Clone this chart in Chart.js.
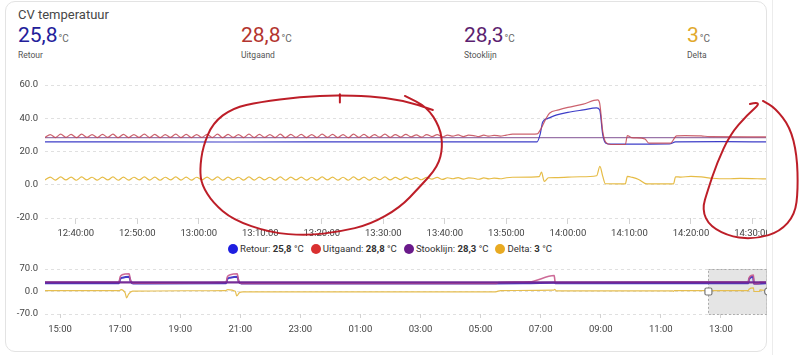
<!DOCTYPE html>
<html><head><meta charset="utf-8">
<script src="https://cdn.jsdelivr.net/npm/chart.js@4.4.1/dist/chart.umd.min.js"></script>
<style>
html,body{margin:0;padding:0;background:#fff;width:800px;height:355px;overflow:hidden;font-family:Roboto,sans-serif;}
#card{position:absolute;left:5px;top:1px;width:762px;height:351px;border:1px solid #e3e3e3;border-radius:10px;box-sizing:border-box;}
#side{position:absolute;left:772px;top:0;width:1px;height:355px;background:#ececec;}
.title{position:absolute;left:18px;top:7px;font-size:13px;line-height:15px;color:#474747;}
.stat{position:absolute;top:23px;white-space:nowrap;}
.stat .v{font-size:21px;line-height:24px;}
.stat .u{font-size:10px;color:#666;margin-left:1px;}
.stat .n{font-size:8.5px;line-height:10px;color:#555;margin-top:3px;}
#legend{position:absolute;left:0;top:243px;width:780px;display:flex;justify-content:center;font-size:9.6px;line-height:12px;color:#333;}
#legend .it{display:flex;align-items:center;margin:0 3.5px;}
#legend .dot{width:10px;height:10px;border-radius:50%;margin-right:2px;}
.wrap{position:absolute;left:0;width:767px;overflow:hidden;}
#pen{position:absolute;left:0;top:0;z-index:5;pointer-events:none;}
</style></head>
<body>
<div id="card"></div><div id="side"></div>
<div class="title">CV temperatuur</div>
<div id="stats"></div>
<div class="wrap" style="top:72px;height:168px;"><canvas id="main" width="790" height="168"></canvas></div>
<div id="legend"></div>
<div class="wrap" style="top:256px;height:80px;"><canvas id="over" width="790" height="80"></canvas></div>
<canvas id="pen" width="800" height="355"></canvas>
<script>
// ---------- data ----------
const seriesNames = ['Retour', 'Uitgaand', 'Stooklijn', 'Delta'];
const currentValues = ['25,8', '28,8', '28,3', '3'];
const unitLabel = '°C';

// main chart range & ticks
const mainStart = '12:35:00', mainEnd = '14:32:12';
const mainTickTimes = ['12:40:00','12:50:00','13:00:00','13:10:00','13:20:00','13:30:00','13:40:00','13:50:00','14:00:00','14:10:00','14:20:00','14:30:00'];
const mainYTicks = [-20, 0, 20, 40, 60];

// Retour (main)
const retourTimes = ['12:35:00','13:05:00','13:30:00','13:55:00','13:55:30','13:55:54','13:56:40','13:58:12','14:00:00','14:02:30','14:04:40','14:05:10','14:05:40','14:06:10','14:07:00','14:12:00','14:16:30','14:17:30','14:25:00','14:32:12'];
const retourValues = [25.8,25.7,25.8,25.8,30.5,37.8,39.8,42.0,43.5,45.0,46.2,45.0,30.0,25.0,24.4,24.4,24.5,25.8,25.9,25.8];

// Stooklijn (main)
const stooklijnTimes = ['12:35:00','14:32:12'];
const stooklijnValues = [28.3, 28.3];

// sensor samples during the oscillating period (every 51 s from 12:35:00)
const oscStart = '12:35:00', oscStepSeconds = 51;
const uitgaandOsc = [
 28.5,30.2,28.4,30.4,28.5,30.3,28.3,30.4,28.5,30.2,
 28.4,30.3,28.5,30.4,28.3,30.3,28.4,30.2,28.5,30.4,
 28.4,30.3,28.3,30.2,28.5,30.4,28.4,30.3,28.4,30.2,
 28.5,30.3,28.4,30.4,28.3,30.3,28.5,30.2,28.4,30.4,
 28.4,30.3,28.5,30.2,28.4,30.4,28.3,30.3,28.5,30.3,
 28.4,30.2,28.4,30.4,28.5,30.3,28.4,30.2,28.3,30.4,
 28.5,30.3,28.4,30.2,28.6,30.4,28.5,30.1,28.7,30.3,
 28.8,30.0,28.6,30.2,29.0,30.1,28.8,29.9,29.2,30.0,
 29.0,29.8];
const deltaOsc = [
 2.9,4.6,2.8,4.7,2.9,4.6,2.7,4.7,2.9,4.5,
 2.8,4.6,2.9,4.7,2.7,4.6,2.8,4.5,2.9,4.7,
 2.8,4.6,2.7,4.5,2.9,4.7,2.8,4.6,2.8,4.5,
 2.9,4.6,2.8,4.7,2.7,4.6,2.9,4.5,2.8,4.7,
 2.8,4.6,2.9,4.5,2.8,4.7,2.7,4.6,2.9,4.6,
 2.8,4.5,2.8,4.7,2.9,4.6,2.8,4.5,2.7,4.7,
 2.9,4.6,2.8,4.5,3.0,4.7,2.9,4.4,3.1,4.6,
 3.2,4.3,3.0,4.5,3.4,4.4,3.2,4.2,3.6,4.3,
 3.4,4.1];

// Uitgaand after the oscillation
const uitgaandTailTimes = ['13:44:40','13:45:30','13:46:20','13:47:10','13:48:00','13:49:00','13:50:00','13:51:00','13:53:00','13:55:00','13:55:40','13:56:20','13:57:00','13:58:30','14:00:00','14:02:30','14:04:50','14:05:10','14:05:40','14:06:10','14:07:00','14:09:20','14:09:40','14:10:20','14:12:30','14:13:10','14:16:40','14:17:40','14:19:00','14:21:40','14:23:00','14:32:12'];
const uitgaandTailValues = [29.6,29.0,29.8,29.2,29.7,29.3,29.9,30.4,30.4,30.6,34.0,39.0,43.0,45.0,46.5,48.5,51.0,49.0,32.0,25.5,24.2,24.2,29.6,28.4,27.6,25.0,25.0,29.4,29.6,29.4,28.9,28.8];

// Delta after the oscillation
const deltaTailTimes = ['13:44:40','13:45:30','13:46:20','13:47:10','13:48:00','13:49:00','13:50:00','13:51:00','13:54:00','13:55:20','13:55:42','13:56:10','13:56:50','13:58:00','14:02:00','14:04:40','14:05:12','14:05:40','14:06:05','14:09:20','14:09:40','14:10:30','14:11:30','14:12:50','14:17:10','14:17:30','14:18:20','14:20:00','14:21:40','14:23:30','14:26:00','14:28:00','14:32:12'];
const deltaTailValues = [3.9,3.3,4.1,3.5,4.0,3.6,4.2,4.5,4.6,4.9,7.6,2.0,4.2,4.3,4.8,5.4,11.0,5.0,0.6,0.5,5.0,4.4,3.2,0.5,0.5,4.8,4.6,5.0,4.7,3.9,3.6,3.8,3.5];

// overview (last 24 h); '+' = next day (today)
const overStart = '14:30', overEnd = '+14:30';
const overTickTimes = ['15:00','17:00','19:00','21:00','23:00','+01:00','+03:00','+05:00','+07:00','+09:00','+11:00','+13:00'];
const overYTicks = [-70, 0, 70];
const ovRetourTimes = ['14:30','16:58','17:00','17:05','17:18','17:21','17:26','20:32','20:34','20:40','20:54','20:57','21:02','+05:30','+06:40','+07:27','+07:30','+13:55','+13:56','+14:04','+14:06','+14:30'];
const ovRetourValues = [26,26,38,43,46,32,25,26,38,43,46,30,25,25,26,27,26,26,38,46,24,26];
const ovUitgaandTimes = ['14:30','16:58','17:00','17:04','17:18','17:21','17:26','20:32','20:34','20:40','20:54','20:57','21:02','+05:30','+05:36','+06:37','+07:27','+07:29','+13:55','+13:56','+14:05','+14:06','+14:17','+14:18','+14:30'];
const ovUitgaandValues = [29,29,45,52,55,33,26,29,45,52,55,31,25,25,28,30,50,28,30,42,51,24,25,29,29];
const ovStooklijnTimes = ['14:30','+14:30'];
const ovStooklijnValues = [28.3,28.3];
const ovDeltaTimes = ['14:30','16:59','17:02','17:10','17:13','17:17','17:25','20:31','20:35','20:50','20:53','20:58','21:05','+05:30','+05:40','+07:26','+07:28','+07:31','+11:24','+11:25','+11:27','+13:55','+13:56','+14:05','+14:06','+14:17','+14:18','+14:30'];
const ovDeltaValues = [3,3,6,-4,-20,-8,1,3,6,1,-14,-4,-1,-1,3,4,7,2,2,0,3,3,7,11,0,0,5,3];

// hand-drawn red pen marks, in chart units (time, °C)
const penStroke1 = [['13:38:03',45.0],['13:32:41',52.2],['13:22:56',54.0],['13:16:25',52.8],['13:09:55',49.8],['13:05:32',46.2],['13:02:17',37.2],['13:00:39',22.8],['13:00:10',9.0],['13:00:29',0],['13:02:17',-10.8],['13:05:32',-21.0],['13:11:33',-28.8],['13:17:34',-30.6],['13:22:56',-28.2],['13:27:48',-24.0],['13:32:41',-13.8],['13:35:56',-1.2],['13:38:52',10.8],['13:39:40',22.8],['13:39:11',34.8],['13:37:04',46.8],['13:33:30',53.4]];
const penTick1 = [['13:22:56',54.5],['13:22:56',49.5]];
const penStroke2 = [['14:29:35',48.6],['14:31:42',50.4],['14:29:07',42.0],['14:26:20',30.0],['14:24:14',13.2],['14:22:46',-3.0],['14:21:47',-15.0],['14:23:05',-25.2],['14:26:50',-31.8],['14:30:44',-32.4],['14:34:28',-28.2],['14:36:55',-18.0],['14:37:24',-3.0],['14:37:14',18.0],['14:36:06',34.8],['14:33:40',46.2],['14:31:42',50.4]];

// ---------- styles ----------
const statColors = ['#23209a', '#b3352f', '#5c1f70', '#e1a92c'];
const dotColors = ['#1e1ee0', '#d93030', '#6a1a8a', '#e8aa22'];
const mainLineColors = ['rgb(62,62,200)', 'rgba(195,70,85,0.85)', 'rgba(120,70,140,0.75)', 'rgb(230,188,70)'];
const overLineColors = ['rgb(70,60,200)', 'rgba(200,90,140,0.9)', 'rgba(112,35,145,0.95)', 'rgb(230,190,80)'];

// ---------- helpers ----------
function toMin(s) {
  let day = 0;
  if (s[0] === '+') { day = 1440; s = s.slice(1); }
  const p = s.split(':').map(Number);
  return day + p[0] * 60 + p[1] + (p[2] || 0) / 60;
}
const pad = n => String(n).padStart(2, '0');
function fmtHMS(v) { const t = Math.round(v * 60); return pad(Math.floor(t / 3600) % 24) + ':' + pad(Math.floor(t % 3600 / 60)) + ':' + pad(t % 60); }
function fmtHM(v) { const t = Math.round(v); return pad(Math.floor(t / 60) % 24) + ':' + pad(t % 60); }
const pts = (times, vals) => times.map((t, i) => ({ x: toMin(t), y: vals[i] }));
const oscPts = vals => vals.map((v, i) => ({ x: toMin(oscStart) + i * oscStepSeconds / 60, y: v }));

// ---------- header & legend ----------
const statLeft = [18, 241, 464, 687];
const statsEl = document.getElementById('stats');
seriesNames.forEach((n, i) => {
  const d = document.createElement('div');
  d.className = 'stat'; d.style.left = statLeft[i] + 'px';
  d.innerHTML = `<span class="v" style="color:${statColors[i]}">${currentValues[i]}</span><span class="u">${unitLabel}</span><div class="n">${n}</div>`;
  statsEl.appendChild(d);
});
const legEl = document.getElementById('legend');
seriesNames.forEach((n, i) => {
  const d = document.createElement('div');
  d.className = 'it';
  d.innerHTML = `<span class="dot" style="background:${dotColors[i]}"></span><span>${n}: <b>${currentValues[i]}</b> ${unitLabel}</span>`;
  legEl.appendChild(d);
});

// ---------- charts ----------
Chart.defaults.font.family = 'Roboto, sans-serif';
Chart.defaults.font.size = 9.5;
Chart.defaults.color = '#444';

const mainMin = toMin(mainStart), mainMax = toMin(mainEnd);

const penPlugin = {
  id: 'pen',
  afterDraw(chart) {
    const c = document.getElementById('pen');
    const ctx = c.getContext('2d');
    ctx.clearRect(0, 0, c.width, c.height);
    const off = chart.canvas.parentNode;
    const ox = off.offsetLeft, oy = off.offsetTop;
    const X = t => ox + chart.scales.x.getPixelForValue(toMin(t));
    const Y = v => oy + chart.scales.y.getPixelForValue(v);
    ctx.strokeStyle = 'rgba(185,18,28,0.95)';
    ctx.lineWidth = 2; ctx.lineJoin = 'round'; ctx.lineCap = 'round';
    function smooth(list) {
      const p = list.map(([t, v]) => [X(t), Y(v)]);
      ctx.beginPath(); ctx.moveTo(p[0][0], p[0][1]);
      for (let i = 1; i < p.length - 1; i++) {
        const mx = (p[i][0] + p[i + 1][0]) / 2, my = (p[i][1] + p[i + 1][1]) / 2;
        ctx.quadraticCurveTo(p[i][0], p[i][1], mx, my);
      }
      const l = p[p.length - 1]; ctx.lineTo(l[0], l[1]);
      ctx.stroke();
    }
    smooth(penStroke1);
    smooth(penStroke2);
    ctx.beginPath(); ctx.moveTo(X(penTick1[0][0]), Y(penTick1[0][1])); ctx.lineTo(X(penTick1[1][0]), Y(penTick1[1][1])); ctx.stroke();
  }
};

function ds(label, data, color, width, order) {
  return { label, data, borderColor: color, borderWidth: width, pointRadius: 0, fill: false, cubicInterpolationMode: 'monotone', order };
}

new Chart(document.getElementById('main'), {
  type: 'line',
  data: {
    datasets: [
      ds(seriesNames[0], pts(retourTimes, retourValues), mainLineColors[0], 1.2, 2),
      ds(seriesNames[1], oscPts(uitgaandOsc).concat(pts(uitgaandTailTimes, uitgaandTailValues)), mainLineColors[1], 1.2, 1),
      ds(seriesNames[2], pts(stooklijnTimes, stooklijnValues), mainLineColors[2], 1.3, 3),
      ds(seriesNames[3], oscPts(deltaOsc).concat(pts(deltaTailTimes, deltaTailValues)), mainLineColors[3], 1.2, 4)
    ]
  },
  options: {
    responsive: false, animation: false, events: [],
    layout: { padding: { top: 13, right: 24, bottom: 0, left: 0 } },
    plugins: { legend: { display: false }, tooltip: { enabled: false } },
    scales: {
      x: {
        type: 'linear', min: mainMin, max: mainMax,
        afterBuildTicks: s => { s.ticks = mainTickTimes.map(t => ({ value: toMin(t) })); },
        afterFit: s => { s.height = 22; },
        ticks: { padding: 4, maxRotation: 0, autoSkip: false, callback: v => fmtHMS(v), color: '#444' },
        grid: { drawOnChartArea: false, drawTicks: true, tickLength: 6, color: '#d2d2d2' },
        border: { display: false }
      },
      y: {
        min: -20, max: 60,
        afterBuildTicks: s => { s.ticks = mainYTicks.map(v => ({ value: v })); },
        afterFit: s => { s.width = 45; },
        ticks: { padding: 7, callback: v => v.toFixed(1), color: '#444' },
        grid: { color: '#e0e0e0', drawTicks: false },
        border: { display: false, dash: [3, 3] }
      }
    }
  },
  plugins: [penPlugin]
});

const overMin = toMin(overStart), overMax = toMin(overEnd);
// the zoom window of the main chart, placed on today's part of the overview
const brushStart = toMin('+' + mainStart), brushEnd = toMin('+' + mainEnd);
const brushPlugin = {
  id: 'brush',
  beforeDatasetsDraw(chart) {
    const { ctx, chartArea: a, scales: { x } } = chart;
    const x0 = x.getPixelForValue(brushStart), x1 = x.getPixelForValue(brushEnd);
    ctx.save();
    ctx.fillStyle = 'rgba(0,0,0,0.1)';
    ctx.fillRect(x0, a.top, x1 - x0, a.bottom - a.top);
    ctx.setLineDash([2, 2]); ctx.strokeStyle = '#aaaaaa'; ctx.lineWidth = 1;
    ctx.strokeRect(Math.round(x0) + 0.5, Math.round(a.top) + 0.5, x1 - x0, a.bottom - a.top);
    ctx.restore();
  },
  afterDatasetsDraw(chart) {
    const { ctx, scales: { x, y } } = chart;
    const x0 = x.getPixelForValue(brushStart), x1 = x.getPixelForValue(brushEnd);
    const ym = y.getPixelForValue(0);
    ctx.save();
    ctx.fillStyle = '#fff'; ctx.strokeStyle = '#777'; ctx.lineWidth = 1.2;
    ctx.beginPath(); ctx.roundRect(x0 - 3.5, ym - 3.5, 7, 7, 1.5); ctx.fill(); ctx.stroke();
    ctx.beginPath(); ctx.arc(x1 + 1, ym, 3.5, 0, Math.PI * 2); ctx.fill(); ctx.stroke();
    ctx.restore();
  }
};

new Chart(document.getElementById('over'), {
  type: 'line',
  data: {
    datasets: [
      ds(seriesNames[0], pts(ovRetourTimes, ovRetourValues), overLineColors[0], 2, 2),
      ds(seriesNames[1], pts(ovUitgaandTimes, ovUitgaandValues), overLineColors[1], 1.6, 1),
      ds(seriesNames[2], pts(ovStooklijnTimes, ovStooklijnValues), overLineColors[2], 2.2, 0),
      ds(seriesNames[3], pts(ovDeltaTimes, ovDeltaValues), overLineColors[3], 1.2, 3)
    ]
  },
  options: {
    responsive: false, animation: false, events: [],
    layout: { padding: { top: 13, right: 24, bottom: 0, left: 0 } },
    plugins: { legend: { display: false }, tooltip: { enabled: false } },
    scales: {
      x: {
        type: 'linear', min: overMin, max: overMax,
        afterBuildTicks: s => { s.ticks = overTickTimes.map(t => ({ value: toMin(t) })); },
        afterFit: s => { s.height = 22; },
        ticks: { padding: 6, maxRotation: 0, autoSkip: false, callback: v => fmtHM(v), color: '#444' },
        grid: { drawOnChartArea: false, drawTicks: true, tickLength: 4, color: '#d2d2d2' },
        border: { display: false }
      },
      y: {
        min: -70, max: 70,
        afterBuildTicks: s => { s.ticks = overYTicks.map(v => ({ value: v })); },
        afterFit: s => { s.width = 45; },
        ticks: { padding: 7, callback: v => v.toFixed(1), color: '#444' },
        grid: { color: '#e0e0e0', drawTicks: false },
        border: { display: false, dash: [3, 3] }
      }
    }
  },
  plugins: [brushPlugin]
});
</script>
</body></html>
